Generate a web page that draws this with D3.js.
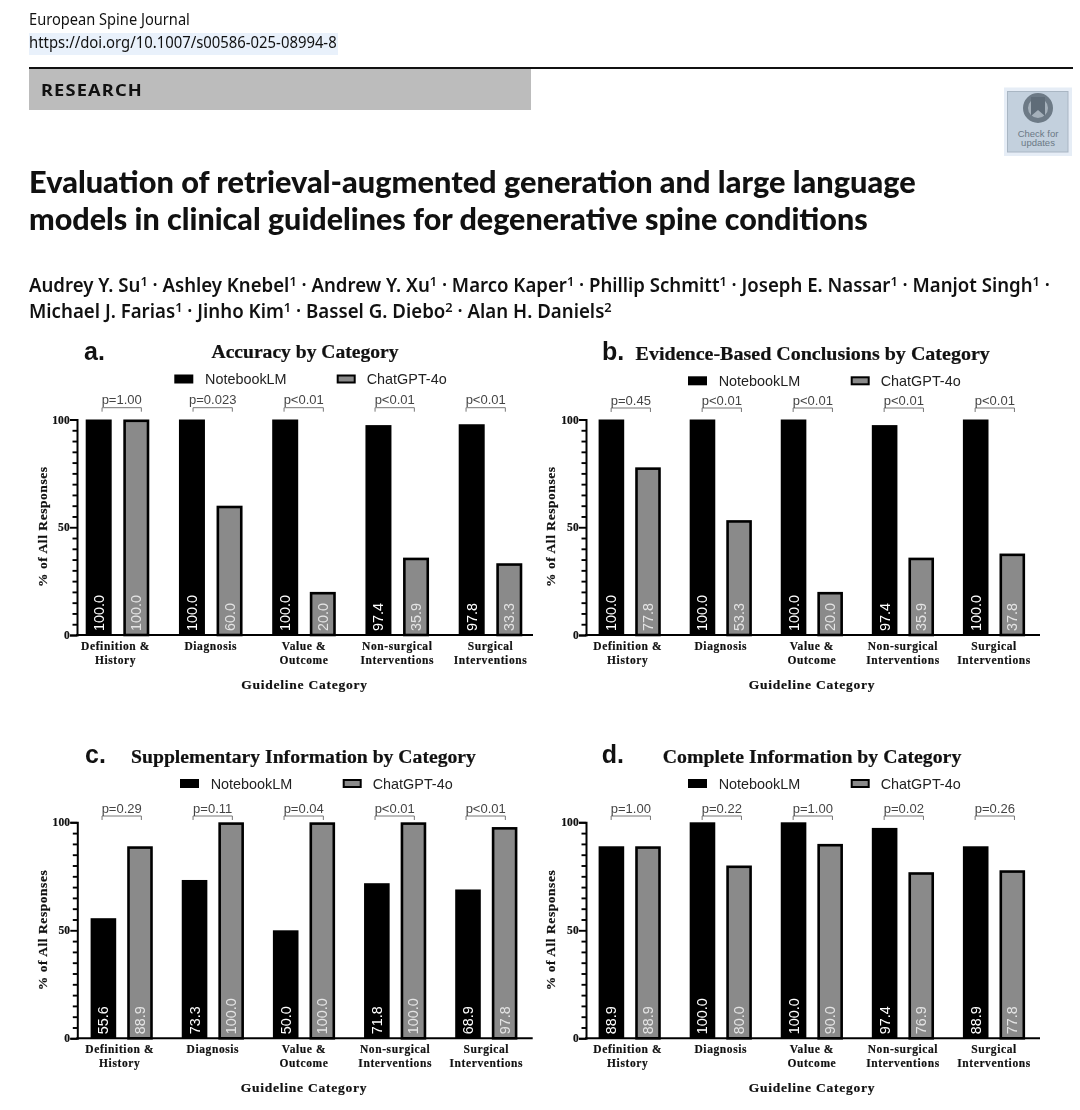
<!DOCTYPE html>
<html>
<head>
<meta charset="utf-8">
<script src="https://cdn.jsdelivr.net/npm/d3@7/dist/d3.min.js"></script>
<style>
html,body{margin:0;padding:0;background:#fff}
svg{display:block;filter:blur(0.55px)}
</style>
</head>
<body>
<svg id="page" width="1080" height="1110"></svg>
<script>
const categories = ["Definition &\nHistory","Diagnosis","Value &\nOutcome","Non-surgical\nInterventions","Surgical\nInterventions"];
const seriesNames = ["NotebookLM","ChatGPT-4o"];
const yTicks = [0,50,100];
const yMinorTicks = [5,10,15,20,25,30,35,40,45,55,60,65,70,75,80,85,90,95];

const accuracyNotebook = [100.0,100.0,100.0,97.4,97.8];
const accuracyChatGPT  = [100.0,60.0,20.0,35.9,33.3];
const accuracyP = ["p=1.00","p=0.023","p<0.01","p<0.01","p<0.01"];

const evidenceNotebook = [100.0,100.0,100.0,97.4,100.0];
const evidenceChatGPT  = [77.8,53.3,20.0,35.9,37.8];
const evidenceP = ["p=0.45","p<0.01","p<0.01","p<0.01","p<0.01"];

const supplementaryNotebook = [55.6,73.3,50.0,71.8,68.9];
const supplementaryChatGPT  = [88.9,100.0,100.0,100.0,97.8];
const supplementaryP = ["p=0.29","p=0.11","p=0.04","p<0.01","p<0.01"];

const completeNotebook = [88.9,100.0,100.0,97.4,88.9];
const completeChatGPT  = [88.9,80.0,90.0,76.9,77.8];
const completeP = ["p=1.00","p=0.22","p=1.00","p=0.02","p=0.26"];

const SANS = "'Liberation Sans',Arial,sans-serif";
const SERIF = "'Liberation Serif','Times New Roman',serif";
const HEAD = "'Noto Sans','Open Sans',sans-serif";
const TITLE = "Lato,'Noto Sans',sans-serif";

const svg = d3.select("#page");

/* fit a text to a measured pixel width by horizontal condensing */
function fit(sel, x, y, width){
  const w = sel.node().getComputedTextLength();
  sel.attr("transform", `translate(${x},${y}) scale(${width/w},1)`);
  return sel;
}
function headText(str, x, y, width, size, weight, family, spacing){
  const t = svg.append("text").attr("font-family",family||HEAD).attr("font-size",size)
    .attr("font-weight",weight).attr("fill","#111").attr("letter-spacing",spacing||0).text(str);
  return fit(t,x,y,width);
}

/* page header */
headText("European Spine Journal",29,25,161,15.5,400);
svg.append("rect").attr("x",29).attr("y",33).attr("width",309).attr("height",22).attr("fill","#e9f1fb");
headText("https://doi.org/10.1007/s00586-025-08994-8",29,48,308,15.5,400);
svg.append("rect").attr("x",29).attr("y",67).attr("width",1044).attr("height",2).attr("fill","#111");
svg.append("rect").attr("x",29).attr("y",69).attr("width",502).attr("height",41).attr("fill","#bcbcbc");
headText("RESEARCH",41,96,102,16,700,HEAD,1);

/* check-for-updates badge */
svg.append("rect").attr("x",1004).attr("y",87.5).attr("width",68).attr("height",68.5).attr("fill","#e6edf6");
svg.append("rect").attr("x",1007.5).attr("y",91.5).attr("width",60.5).attr("height",60.5).attr("fill","#c3d0dd").attr("stroke","#a9b6c3");
svg.append("circle").attr("cx",1038).attr("cy",108).attr("r",12.5).attr("fill","#a5b0ba").attr("stroke","#6d7a86").attr("stroke-width",5);
svg.append("path").attr("d",d3.line()([[1031,97],[1045,97],[1045,116],[1038,110],[1031,116]])+"Z").attr("fill","#5f6c78");
svg.append("text").attr("x",1038).attr("y",137).attr("text-anchor","middle").attr("font-family",SANS).attr("font-size",9.5).attr("fill","#6b7985").text("Check for");
svg.append("text").attr("x",1038).attr("y",146).attr("text-anchor","middle").attr("font-family",SANS).attr("font-size",9.5).attr("fill","#6b7985").text("updates");

/* article title */
headText("Evaluation of retrieval-augmented generation and large language",29,193,887,30.5,900,TITLE);
headText("models in clinical guidelines for degenerative spine conditions",29,230,839,30.5,900,TITLE);

/* author lines */
function authors(list, trailing, x, y, width){
  const t = svg.append("text").attr("font-family",HEAD).attr("font-size",19).attr("font-weight",600).attr("fill","#111");
  list.forEach((a,i)=>{
    t.append("tspan").text(a[0]);
    t.append("tspan").attr("font-size",13).attr("dy",-6).text(a[1]);
    const sep = (i<list.length-1) ? " · " : (trailing ? " ·" : null);
    if(sep) t.append("tspan").attr("dy",6).text(sep);
  });
  t.attr("xml:space","preserve").style("white-space","pre");
  fit(t,x,y,width);
}
authors([["Audrey Y. Su","1"],["Ashley Knebel","1"],["Andrew Y. Xu","1"],["Marco Kaper","1"],["Phillip Schmitt","1"],["Joseph E. Nassar","1"],["Manjot Singh","1"]],true,29,292,1021);
authors([["Michael J. Farias","1"],["Jinho Kim","1"],["Bassel G. Diebo","2"],["Alan H. Daniels","2"]],false,29,318,583);

/* panels: data arrays plus the layout measured for each panel */
const panels = [
  {letter:"a.",title:"Accuracy by Category",nb:accuracyNotebook,gpt:accuracyChatGPT,p:accuracyP,
   axisX:77,right:533,y100:419.5,y0:635,first:117.5,last:490.5,barW:26,gap:11.6,
   letterX:84,letterY:360,titleX:305,titleY:358,titleW:187,
   legX:[174.3,336.7],legY:374.5,legTextY:384,
   brFirst:121.7,brY:407.7,yLabelX:47,yLabelY:526.7,xLabelX:304.5,xLabelY:689},
  {letter:"b.",title:"Evidence-Based Conclusions by Category",nb:evidenceNotebook,gpt:evidenceChatGPT,p:evidenceP,
   axisX:586,right:1040,y100:419.5,y0:635,first:629.7,last:994,barW:25.6,gap:11,
   letterX:602,letterY:360,titleX:812.7,titleY:360,titleW:354.5,
   legX:[688,850.7],legY:376.3,legTextY:385.7,
   brFirst:630.8,brY:408,yLabelX:555,yLabelY:526.7,xLabelX:812,xLabelY:689},
  {letter:"c.",title:"Supplementary Information by Category",nb:supplementaryNotebook,gpt:supplementaryChatGPT,p:supplementaryP,
   axisX:77.3,right:532.7,y100:822.3,y0:1038.3,first:121.7,last:486.3,barW:25.6,gap:11,
   letterX:85,letterY:763,titleX:303.5,titleY:763,titleW:345,
   legX:[180,342.7],legY:779,legTextY:789,
   brFirst:121.7,brY:816,yLabelX:46.7,yLabelY:930,xLabelX:304,xLabelY:1092},
  {letter:"d.",title:"Complete Information by Category",nb:completeNotebook,gpt:completeChatGPT,p:completeP,
   axisX:586,right:1040,y100:822.3,y0:1038.3,first:629.7,last:994,barW:25.6,gap:11,
   letterX:601.7,letterY:763,titleX:812,titleY:763,titleW:298.7,
   legX:[688,850.7],legY:779,legTextY:789,
   brFirst:630.8,brY:816,yLabelX:555,yLabelY:930,xLabelX:812,xLabelY:1092}
];

panels.forEach(drawPanel);

function drawPanel(c){
  const g = svg.append("g");
  const step = (c.last-c.first)/4;
  const x0 = d3.scaleBand().domain(categories).range([c.first-step/2,c.last+step/2]);
  const groupW = 2*c.barW+c.gap;
  const x1 = d3.scaleBand().domain(seriesNames).range([0,groupW]).paddingInner(c.gap/(c.barW+c.gap));
  const y = d3.scaleLinear().domain([0,100]).range([c.y0,c.y100]);
  const groupLeft = d => x0(d)+x0.bandwidth()/2-groupW/2;

  /* bars */
  const rows = categories.flatMap((cat,i)=>[
    {cat,s:seriesNames[0],v:c.nb[i]},{cat,s:seriesNames[1],v:c.gpt[i]}]);
  const sw = 2.6;
  const isGpt = d => d.s===seriesNames[1];
  g.selectAll("rect.bar").data(rows).join("rect").attr("class","bar")
    .attr("x",d=>groupLeft(d.cat)+x1(d.s)+(isGpt(d)?sw/2:0))
    .attr("y",d=>y(d.v)+(isGpt(d)?sw/2:0))
    .attr("width",d=>x1.bandwidth()-(isGpt(d)?sw:0))
    .attr("height",d=>c.y0-y(d.v)-(isGpt(d)?sw/2:0))
    .attr("fill",d=>isGpt(d)?"#8a8a8a":"#000")
    .attr("stroke",d=>isGpt(d)?"#000":"none")
    .attr("stroke-width",sw);

  /* value labels */
  g.selectAll("text.val").data(rows).join("text").attr("class","val")
    .attr("transform",d=>`translate(${groupLeft(d.cat)+x1(d.s)+x1.bandwidth()/2+5},${c.y0-4}) rotate(-90)`)
    .attr("font-family",SANS).attr("font-size",14.4)
    .attr("fill",d=>isGpt(d)?"#e4e4e4":"#fff")
    .text(d=>d.v.toFixed(1));

  /* y axis */
  const major = g.append("g").attr("transform",`translate(${c.axisX},0)`)
    .call(d3.axisLeft(y).tickValues(yTicks).tickSize(7).tickPadding(0).tickFormat(d3.format("d")));
  const minor = g.append("g").attr("transform",`translate(${c.axisX},0)`)
    .call(d3.axisLeft(y).tickValues(yMinorTicks).tickSize(4.5).tickFormat(""));
  minor.select(".domain").remove();
  minor.selectAll(".tick text").remove();
  major.select(".domain").attr("stroke","#000").attr("stroke-width",2);
  g.selectAll(".tick line").attr("stroke","#000").attr("stroke-width",1.9);
  major.selectAll("text").attr("font-family",SERIF).attr("font-weight",700).attr("font-size",11.5).attr("fill","#111").attr("letter-spacing",0.2).attr("stroke","#111").attr("stroke-width",0.2);

  /* x axis */
  const xa = g.append("g").attr("transform",`translate(0,${c.y0})`)
    .call(d3.axisBottom(x0).tickSize(0).tickPadding(0).tickFormat(""));
  xa.select(".domain").remove();
  g.append("line").attr("x1",c.axisX-1).attr("x2",c.right).attr("y1",c.y0).attr("y2",c.y0).attr("stroke","#000").attr("stroke-width",2);
  xa.selectAll(".tick text").each(function(d,i){
    const t = d3.select(this).attr("y",0).attr("dy",null).attr("x",i===0?-2:0)
      .attr("font-family",SERIF).attr("font-weight",700).attr("font-size",11.5).attr("letter-spacing",0.6).attr("fill","#111").attr("stroke","#111").attr("stroke-width",0.2);
    d.split("\n").forEach((line,j)=>{
      t.append("tspan").attr("x",i===0?-2:0).attr("y",15+14*j).text(line);
    });
  });

  /* p-value brackets */
  const brW = 39.3;
  const xb = d3.scaleBand().domain(categories).range([c.brFirst-45.5,c.brFirst-45.5+91*5]);
  const br = g.selectAll("g.br").data(categories.map((cat,i)=>({cat,p:c.p[i]}))).join("g").attr("class","br")
    .attr("transform",d=>`translate(${xb(d.cat)+xb.bandwidth()/2},${c.brY})`);
  br.append("path").attr("d",`M${-brW/2},4V0H${brW/2}V4`).attr("fill","none").attr("stroke","#777").attr("stroke-width",1);
  br.append("text").attr("y",-3.5).attr("text-anchor","middle").attr("font-family",SANS).attr("font-size",13).attr("fill","#444").text(d=>d.p);

  /* legend */
  seriesNames.forEach((s,i)=>{
    g.append("rect").attr("x",c.legX[i]+(i?1:0)).attr("y",c.legY+(i?1:0))
      .attr("width",19-(i?2:0)).attr("height",9-(i?2:0))
      .attr("fill",i?"#8a8a8a":"#000").attr("stroke",i?"#000":"none").attr("stroke-width",i?2:0);
    g.append("text").attr("x",c.legX[i]+(i?30:30.7)).attr("y",c.legTextY)
      .attr("font-family",SANS).attr("font-size",14.4).attr("fill","#222").text(s);
  });

  /* titles */
  const tt = g.append("text").attr("text-anchor","middle").attr("font-family",SERIF).attr("font-weight",700)
    .attr("font-size",18.5).attr("fill","#111").attr("stroke","#111").attr("stroke-width",0.2).text(c.title);
  const scale = c.titleW/tt.node().getComputedTextLength();
  tt.attr("transform",`translate(${c.titleX},${c.titleY}) scale(${scale},1)`);
  g.append("text").attr("x",c.letterX).attr("y",c.letterY).attr("font-family",SANS).attr("font-weight",700)
    .attr("font-size",25).attr("fill","#111").text(c.letter);
  g.append("text").attr("transform",`translate(${c.yLabelX},${c.yLabelY}) rotate(-90)`).attr("text-anchor","middle")
    .attr("font-family",SERIF).attr("font-weight",700).attr("font-size",13.5).attr("letter-spacing",0.55).attr("fill","#111").attr("stroke","#111").attr("stroke-width",0.2).text("% of All Responses");
  g.append("text").attr("x",c.xLabelX).attr("y",c.xLabelY).attr("text-anchor","middle")
    .attr("font-family",SERIF).attr("font-weight",700).attr("font-size",13.5).attr("letter-spacing",0.75).attr("fill","#111").attr("stroke","#111").attr("stroke-width",0.2).text("Guideline Category");
}
</script>
</body>
</html>
